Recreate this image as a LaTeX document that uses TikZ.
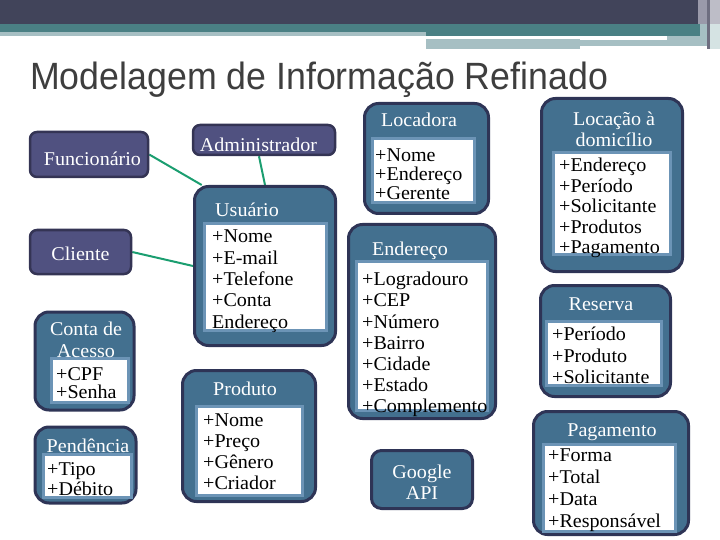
\documentclass[tikz,border=0pt]{standalone}
\usepackage{fontspec}
\setmainfont[FakeStretch=1.03]{Liberation Serif}
\newfontfamily\slidefont{Liberation Sans}
\usetikzlibrary{backgrounds}
\definecolor{bardark}{RGB}{65,68,90}
\definecolor{barteal}{RGB}{74,128,132}
\definecolor{barlight}{RGB}{166,191,195}
\definecolor{bargray}{RGB}{154,154,170}
\definecolor{bargraydk}{RGB}{110,110,128}
\definecolor{bargraylt}{RGB}{189,189,199}
\definecolor{barpale}{RGB}{213,227,227}
\definecolor{titlegray}{RGB}{62,62,62}
\definecolor{entfill}{RGB}{80,81,128}
\definecolor{entline}{RGB}{52,52,84}
\definecolor{clsfill}{RGB}{67,112,143}
\definecolor{clsline}{RGB}{46,52,86}
\definecolor{bodyline}{RGB}{108,148,182}
\definecolor{linkgreen}{RGB}{27,158,112}
\newcommand\boxfont[1]{\fontsize{19.5}{#1}\selectfont}

\begin{document}
\begin{tikzpicture}[x=1pt,y=-1pt,
  ent/.style={draw=entline,line width=2.5pt,fill=entfill,rounded corners=7pt,inner sep=0pt},
  cls/.style={draw=clsline,line width=3pt,fill=clsfill,rounded corners=14pt,inner sep=0pt},
  body/.style={draw=bodyline,line width=3pt,fill=white,inner sep=0pt},
  head/.style={text=white,font=\boxfont{22},inner sep=0pt,anchor=base},
  attr/.style={align=left,inner sep=0pt,anchor=north west},
  link/.style={draw=linkgreen,line width=2pt}]
\useasboundingbox (0,0) rectangle (720,540);
\fill[bardark] (0,0) rectangle (720,24);
\fill[barteal] (0,24) rectangle (700,32); \fill[barlight] (0,32) rectangle (426,36);
\fill[barteal] (426,32) rectangle (700,36);
\fill[barlight] (426,39) rectangle (580,49); \fill[barlight] (580,40) rectangle (700,46);
\fill[barlight] (667,36) rectangle (700,46);
\fill[bargray] (698,0) rectangle (707,24); \fill[bargraydk] (707,0) rectangle (710,49);
\fill[bargraylt] (710,0) rectangle (720,24); \fill[barlight] (700,24) rectangle (707,46);
\fill[barpale] (710,24) rectangle (720,49);
\node[anchor=base west,inner sep=0pt,text=titlegray] (title) at (30,90)
  {\scalebox{0.94}[1]{\slidefont\fontsize{38}{38}\selectfont Modelagem de Informação Refinado}};

\node[ent,minimum width=118pt,minimum height=45pt] (fun) at (89,154.5) {};
\node[head] (funt) at (92.5,166) {Funcionário};
\node[ent,minimum width=101pt,minimum height=44pt] (cli) at (80.5,252) {};
\node[head] (clit) at (80.5,260) {Cliente};
\node[ent,minimum width=142pt,minimum height=30pt] (adm) at (264,140) {};
\node[head] (admt) at (258.5,152) {Administrador};

\node[cls,minimum width=99pt,minimum height=98pt] (cta) at (84.5,361) {};
\node[body,minimum width=77pt,minimum height=44pt] (ctab) at (89.5,380) {};
\node[head,anchor=north,align=center] (ctat) at (86,322) {Conta de\\Acesso};
\node[attr,font=\boxfont{18}] (ctaa) at (56,367) {+CPF\\+Senha};

\node[cls,minimum width=101pt,minimum height=76pt] (pen) at (85.5,465) {};
\node[body,minimum width=88pt,minimum height=43pt] (penb) at (87.5,476) {};
\node[head] (pent) at (88,452) {Pendência};
\node[attr,font=\boxfont{20}] (pena) at (47,462) {+Tipo\\+Débito};

\node[cls,minimum width=141pt,minimum height=159pt] (usr) at (265,266) {};
\node[body,minimum width=122pt,minimum height=107pt] (usrb) at (265.5,277) {};
\node[head] (usrt) at (247,216) {Usuário};
\node[attr,font=\boxfont{21.3}] (usra) at (212,230) {+Nome\\+E-mail\\+Telefone\\+Conta\\Endereço};

\node[cls,minimum width=133pt,minimum height=131pt] (prd) at (249,436) {};
\node[body,minimum width=106pt,minimum height=89pt] (prdb) at (249.5,451) {};
\node[head] (prdt) at (245,395) {Produto};
\node[attr,font=\boxfont{21}] (prda) at (203,414) {+Nome\\+Preço\\+Gênero\\+Criador};

\node[cls,minimum width=124pt,minimum height=110pt] (loc) at (426.5,158.5) {};
\node[body,minimum width=102pt,minimum height=64pt] (locb) at (423.5,170.5) {};
\node[head] (loct) at (419,127) {Locadora};
\node[attr,font=\boxfont{19}] (loca) at (375,149) {+Nome\\+Endereço\\+Gerente};

\node[cls,minimum width=147pt,minimum height=194pt] (end) at (422,321.5) {};
\node[body,minimum width=131pt,minimum height=149pt] (endb) at (422,336) {};
\node[head] (endt) at (410,255) {Endereço};
\node[attr,font=\boxfont{21.2}] (enda) at (362,272)
  {+Logradouro\\+CEP\\+Número\\+Bairro\\+Cidade\\+Estado\\+Complemento};

\node[cls,rounded corners=10pt,minimum width=101pt,minimum height=58pt] (api) at (422,479.5) {};
\node[head,anchor=north,align=center,font=\boxfont{21}] (apit) at (422,465) {Google\\API};

\node[cls,minimum width=141pt,minimum height=173pt] (dom) at (612,185) {};
\node[body,minimum width=117pt,minimum height=102pt] (domb) at (612,203.5) {};
\node[head,anchor=north,align=center,font=\boxfont{21}] (domt) at (614,112) {Locação à\\domicílio};
\node[attr,font=\boxfont{20.5}] (doma) at (559,158)
  {+Endereço\\+Período\\+Solicitante\\+Produtos\\+Pagamento};

\node[cls,minimum width=130pt,minimum height=111pt] (res) at (605.5,341) {};
\node[body,minimum width=115pt,minimum height=64pt] (resb) at (604,353.5) {};
\node[head] (rest) at (601,310) {Reserva};
\node[attr,font=\boxfont{21.5}] (resa) at (552,327) {+Período\\+Produto\\+Solicitante};

\node[cls,minimum width=155pt,minimum height=123pt] (pag) at (611,473) {};
\node[body,minimum width=132pt,minimum height=87pt] (pagb) at (609.5,488) {};
\node[head] (pagt) at (612,436) {Pagamento};
\node[attr,font=\boxfont{21.7}] (paga) at (548,449) {+Forma\\+Total\\+Data\\+Responsável};

\begin{scope}[on background layer]
\draw[link] (fun.east) -- (usr.128);
\draw[link] (cli.east) -- (usr.west);
\draw[link] ([xshift=-5pt]adm.south) -- (usr.north);
\end{scope}
\end{tikzpicture}
\end{document}
